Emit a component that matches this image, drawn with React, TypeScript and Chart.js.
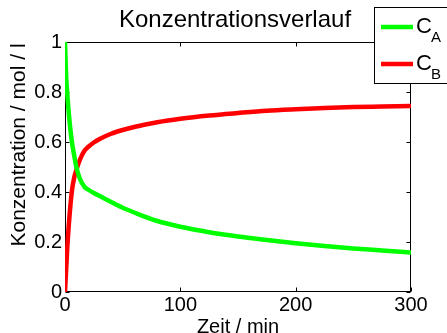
import React, { useEffect, useRef } from 'react';
import { Chart, registerables } from 'chart.js';

Chart.register(...registerables);

// ---- data ----
const times = [0, 1, 2, 3, 4, 6, 8, 10, 13, 17, 20, 25, 30, 40, 50, 60, 80, 100, 125, 150, 175, 200, 225, 250, 275, 300];
const concA = [1.0, 0.86, 0.79, 0.73, 0.68, 0.6, 0.545, 0.497, 0.452, 0.42, 0.41, 0.396, 0.384, 0.36, 0.337, 0.318, 0.284, 0.261, 0.239, 0.222, 0.208, 0.195, 0.184, 0.174, 0.166, 0.158];
const concB = [0, 0.09, 0.18, 0.25, 0.31, 0.405, 0.458, 0.49, 0.53, 0.566, 0.58, 0.598, 0.612, 0.633, 0.648, 0.66, 0.679, 0.693, 0.706, 0.716, 0.725, 0.731, 0.736, 0.74, 0.742, 0.744];
const seriesBase = ['C', 'C'];
const seriesSub = ['A', 'B'];
const seriesColors = ['#00ff00', '#ff0000'];
const xTicks = [0, 100, 200, 300];
const yTicks = [0, 0.2, 0.4, 0.6, 0.8, 1];
const chartTitle = 'Konzentrationsverlauf';
const xTitle = 'Zeit / min';
const yTitle = 'Konzentration / mol / l';

const FONT = '"Liberation Sans", Arial, Helvetica, sans-serif';

const boxPlugin = {
  id: 'matlabBox',
  beforeDatasetsDraw(chart: any) {
    const { ctx, chartArea, scales } = chart;
    const { left, right, top, bottom } = chartArea;
    ctx.save();
    ctx.strokeStyle = '#000';
    ctx.lineWidth = 1;
    const L = Math.round(left) + 0.5;
    const R = Math.round(right) - 0.5;
    const T = Math.round(top) + 0.5;
    const B = Math.round(bottom) - 0.5;
    ctx.strokeRect(L, T, R - L, B - T);
    const tl = 4;
    ctx.beginPath();
    scales.x.ticks.forEach((t: any) => {
      const px = Math.round(scales.x.getPixelForValue(t.value)) + 0.5;
      ctx.moveTo(px, B);
      ctx.lineTo(px, B - tl);
      ctx.moveTo(px, T);
      ctx.lineTo(px, T + tl);
    });
    scales.y.ticks.forEach((t: any) => {
      const py = Math.round(scales.y.getPixelForValue(t.value)) + 0.5;
      ctx.moveTo(L, py);
      ctx.lineTo(L + tl, py);
      ctx.moveTo(R, py);
      ctx.lineTo(R - tl, py);
    });
    ctx.stroke();
    ctx.restore();
  },
};

const textPlugin = {
  id: 'matlabText',
  afterDraw(chart: any) {
    const { ctx, chartArea } = chart;
    ctx.save();
    ctx.fillStyle = '#000';
    // title
    ctx.font = `24px ${FONT}`;
    ctx.textAlign = 'center';
    ctx.textBaseline = 'alphabetic';
    ctx.fillText(chartTitle, 235, 27);
    // x title
    ctx.font = `20px ${FONT}`;
    ctx.fillText(xTitle, (chartArea.left + chartArea.right) / 2, 333);
    // y title
    ctx.save();
    ctx.translate(25, 145);
    ctx.rotate(-Math.PI / 2);
    ctx.font = `21px ${FONT}`;
    ctx.fillText(yTitle, 0, 0);
    ctx.restore();

    // legend
    const bx = 374.5, by = 7.5, bw = 90, bh = 76;
    ctx.fillStyle = '#fff';
    ctx.fillRect(bx, by, bw, bh);
    ctx.strokeStyle = '#000';
    ctx.lineWidth = 1;
    ctx.strokeRect(bx, by, bw, bh);
    const rows = [27, 64];
    chart.data.datasets.forEach((ds: any, i: number) => {
      const ly = rows[i];
      ctx.strokeStyle = ds.borderColor;
      ctx.lineWidth = 4.5;
      ctx.beginPath();
      ctx.moveTo(381, ly);
      ctx.lineTo(413, ly);
      ctx.stroke();
      ctx.fillStyle = '#000';
      ctx.textAlign = 'left';
      ctx.font = `22px ${FONT}`;
      ctx.fillText(seriesBase[i], 416, ly + 6);
      ctx.font = `15px ${FONT}`;
      ctx.fillText(seriesSub[i], 431, ly + 15);
    });
    ctx.restore();
  },
};

export default function App() {
  const ref = useRef<HTMLCanvasElement | null>(null);
  useEffect(() => {
    if (!ref.current) return;
    const chart = new Chart(ref.current, {
      type: 'line',
      data: {
        datasets: [
          {
            label: seriesBase[0] + '_' + seriesSub[0],
            data: times.map((t, i) => ({ x: t, y: concA[i] })),
            borderColor: seriesColors[0],
            borderWidth: 4.5,
            pointRadius: 0,
            cubicInterpolationMode: 'monotone',
            fill: false,
          },
          {
            label: seriesBase[1] + '_' + seriesSub[1],
            data: times.map((t, i) => ({ x: t, y: concB[i] })),
            borderColor: seriesColors[1],
            borderWidth: 4.5,
            pointRadius: 0,
            cubicInterpolationMode: 'monotone',
            fill: false,
          },
        ],
      },
      options: {
        responsive: false,
        animation: false,
        layout: { padding: { left: 0, right: 36, top: 42, bottom: 0 } },
        plugins: { legend: { display: false }, title: { display: false }, tooltip: { enabled: false } },
        scales: {
          x: {
            type: 'linear',
            min: 0,
            max: 300,
            grid: { display: false, drawTicks: false },
            border: { display: false },
            afterBuildTicks: (s: any) => { s.ticks = xTicks.map((v) => ({ value: v })); },
            afterFit: (s: any) => { s.height = 41; },
            ticks: {
              color: '#000',
              font: { family: FONT, size: 20 },
              padding: 1,
              maxRotation: 0,
              autoSkip: false,
              callback: (v: any) => String(v),
            },
          },
          y: {
            type: 'linear',
            min: 0,
            max: 1,
            grid: { display: false, drawTicks: false },
            border: { display: false },
            afterBuildTicks: (s: any) => { s.ticks = yTicks.map((v) => ({ value: v })); },
            afterFit: (s: any) => { s.width = 65; },
            ticks: {
              color: '#000',
              font: { family: FONT, size: 20 },
              padding: 3,
              autoSkip: false,
              callback: (v: any) => String(Math.round(v * 10) / 10),
            },
          },
        },
      },
      plugins: [boxPlugin, textPlugin],
    } as any);
    return () => chart.destroy();
  }, []);
  return (
    <div style={{ position: 'absolute', left: 0, top: 0, width: 447, height: 333, background: '#fff' }}>
      <canvas ref={ref} width={447} height={333} style={{ display: 'block', width: 447, height: 333 }} />
    </div>
  );
}
